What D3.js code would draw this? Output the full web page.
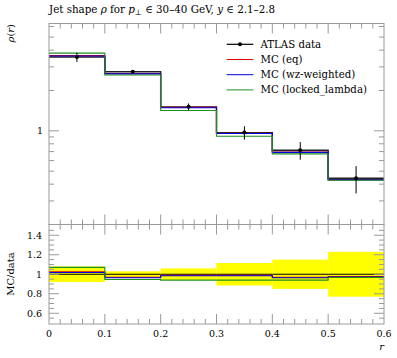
<!DOCTYPE html>
<html><head><meta charset="utf-8">
<script src="https://cdn.jsdelivr.net/npm/d3@7"></script>
<style>body{margin:0;background:#fff}svg{display:block}</style>
</head><body><svg id="c" width="397" height="358" font-family="DejaVu Serif" fill="#000"></svg>
<script>
const binEdges = [0, 0.1, 0.2, 0.3, 0.4, 0.5, 0.6];
const dataVals = [3.55, 2.76, 1.51, 0.97, 0.716, 0.443];
const dataErrRel = [0.08, 0.03, 0.06, 0.115, 0.15, 0.23];
const ratioEq = [1.025, 0.97, 0.99, 0.99, 0.97, 0.977];
const ratioWz = [1.018, 0.964, 0.984, 0.984, 0.964, 0.971];
const ratioLocked = [1.07, 0.946, 0.94, 0.94, 0.94, 0.966];
const xTickLabels = ["0", "0.1", "0.2", "0.3", "0.4", "0.5", "0.6"];
const ratioTickLabels = ["0.6", "0.8", "1", "1.2", "1.4"];
const legendLabels = ["ATLAS data", "MC (eq)", "MC (wz-weighted)", "MC (locked_lambda)"];
const colors = ["#000000", "#e00000", "#0000e0", "#1f8f1f"];

const svg = d3.select("#c");
const L = 49, R = 384, T = 23.5, M = 224.5, B = 324;
const x = d3.scaleLinear().domain([0, 0.6]).range([L, R]);
const y = d3.scaleLog().domain([0.2, 6.32]).range([M, T]);
const yr = d3.scaleLinear().domain([0.49, 1.51]).range([B, M]);
const frameCol = "#9a9a9a";

function stepPath(vals, ys) {
  let p = "";
  vals.forEach((v, i) => {
    const x0 = x(binEdges[i]), x1 = x(binEdges[i + 1]), yy = ys(v);
    p += (i === 0 ? "M" : "L") + x0 + "," + yy + "L" + x1 + "," + yy;
  });
  return p;
}

const gR = svg.append("g");
dataErrRel.forEach((e, i) => {
  gR.append("rect").attr("x", x(binEdges[i])).attr("width", x(binEdges[i + 1]) - x(binEdges[i]))
    .attr("y", yr(1 + e)).attr("height", yr(1 - e) - yr(1 + e)).attr("fill", "#ffff00");
});
gR.append("path").attr("d", stepPath(dataVals.map(() => 1), yr)).attr("fill", "none").attr("stroke", "#000").attr("stroke-width", 1);
[[ratioEq, colors[1]], [ratioWz, colors[2]], [ratioLocked, colors[3]]].forEach(([vals, c]) => {
  gR.append("path").attr("d", stepPath(vals, yr)).attr("fill", "none").attr("stroke", c).attr("stroke-width", 1.1);
});

const gU = svg.append("g");
gU.append("path").attr("d", stepPath(dataVals, y)).attr("fill", "none").attr("stroke", "#222").attr("stroke-width", 1.4);
[[ratioEq, colors[1]], [ratioWz, colors[2]], [ratioLocked, colors[3]]].forEach(([vals, c]) => {
  gU.append("path").attr("d", stepPath(vals.map((r, i) => r * dataVals[i]), y)).attr("fill", "none").attr("stroke", c).attr("stroke-width", 1.1);
});
dataVals.forEach((v, i) => {
  const cx = x((binEdges[i] + binEdges[i + 1]) / 2);
  gU.append("line").attr("x1", cx).attr("x2", cx).attr("y1", y(v * (1 + dataErrRel[i]))).attr("y2", y(v * (1 - dataErrRel[i])))
    .attr("stroke", "#000").attr("stroke-width", 1);
  gU.append("circle").attr("cx", cx).attr("cy", y(v)).attr("r", 2).attr("fill", "#000");
});

const ax = svg.append("g").attr("stroke", frameCol).attr("fill", "none");
ax.append("rect").attr("x", L).attr("y", T).attr("width", R - L).attr("height", M - T);
ax.append("rect").attr("x", L).attr("y", M).attr("width", R - L).attr("height", B - M);

const xMinor = d3.range(0, 0.6001, 0.02);
function xTicks(yTop, yBot) {
  xMinor.forEach((t, k) => {
    const major = k % 5 === 0;
    const len = major ? 10 : 5;
    const xx = x(t);
    if (k === 0 || k === xMinor.length - 1) return;
    ax.append("line").attr("x1", xx).attr("x2", xx).attr("y1", yBot).attr("y2", yBot - len);
    ax.append("line").attr("x1", xx).attr("x2", xx).attr("y1", yTop).attr("y2", yTop + len);
  });
}
xTicks(T, M);
xTicks(M, B);

const logMajor = [1];
const logMinor = [0.3, 0.4, 0.5, 0.6, 0.7, 0.8, 0.9, 2, 3, 4, 5, 6];
logMajor.concat(logMinor).forEach(t => {
  const len = logMajor.includes(t) ? 10 : 5;
  ax.append("line").attr("x1", L).attr("x2", L + len).attr("y1", y(t)).attr("y2", y(t));
  ax.append("line").attr("x1", R).attr("x2", R - len).attr("y1", y(t)).attr("y2", y(t));
});
svg.append("text").attr("x", L - 6).attr("y", y(1) + 3.5).attr("text-anchor", "end").attr("font-size", 9.5).text("1");

d3.range(0.55, 1.5, 0.05).forEach(t => {
  const major = Math.abs(Math.round(t * 10) / 10 - t) < 1e-6 && Math.round(t * 10) % 2 === 0;
  const len = major ? 10 : 5;
  ax.append("line").attr("x1", L).attr("x2", L + len).attr("y1", yr(t)).attr("y2", yr(t));
  ax.append("line").attr("x1", R).attr("x2", R - len).attr("y1", yr(t)).attr("y2", yr(t));
});
ratioTickLabels.forEach(s => {
  svg.append("text").attr("x", L - 7).attr("y", yr(+s) + 3.5).attr("text-anchor", "end").attr("font-size", 9.5).text(s);
});
xTickLabels.forEach((s, i) => {
  svg.append("text").attr("x", x(binEdges[i])).attr("y", B + 13).attr("text-anchor", "middle").attr("font-size", 9.5).text(s);
});

svg.append("text").attr("x", R).attr("y", 350).attr("text-anchor", "end").attr("font-size", 10).attr("font-style", "italic").text("r");
svg.append("text").attr("transform", "translate(14,24) rotate(-90)").attr("text-anchor", "end").attr("font-size", 10)
  .html('<tspan font-style="italic">ρ</tspan>(<tspan font-style="italic">r</tspan>)');
svg.append("text").attr("transform", "translate(14,274) rotate(-90)").attr("text-anchor", "middle").attr("font-size", 10).text("MC/data");

svg.append("text").attr("x", L).attr("y", 13).attr("font-size", 10.3)
  .html('Jet shape <tspan font-style="italic">ρ</tspan> for <tspan font-style="italic">p</tspan><tspan font-size="7.5" dy="2">⊥</tspan><tspan dy="-2"> ∈ 30–40 GeV, </tspan><tspan font-style="italic">y</tspan> ∈ 2.1–2.8');

const lg = svg.append("g");
legendLabels.forEach((s, i) => {
  const yy = 44.3 + i * 15.2;
  lg.append("line").attr("x1", 226.7).attr("x2", 253.3).attr("y1", yy).attr("y2", yy).attr("stroke", colors[i]).attr("stroke-width", i === 0 ? 1.2 : 1);
  if (i === 0) lg.append("circle").attr("cx", 240).attr("cy", yy).attr("r", 2).attr("fill", "#000");
  lg.append("text").attr("x", 260.5).attr("y", yy + 3.5).attr("font-size", 10.2).text(s);
});
</script></body></html>
